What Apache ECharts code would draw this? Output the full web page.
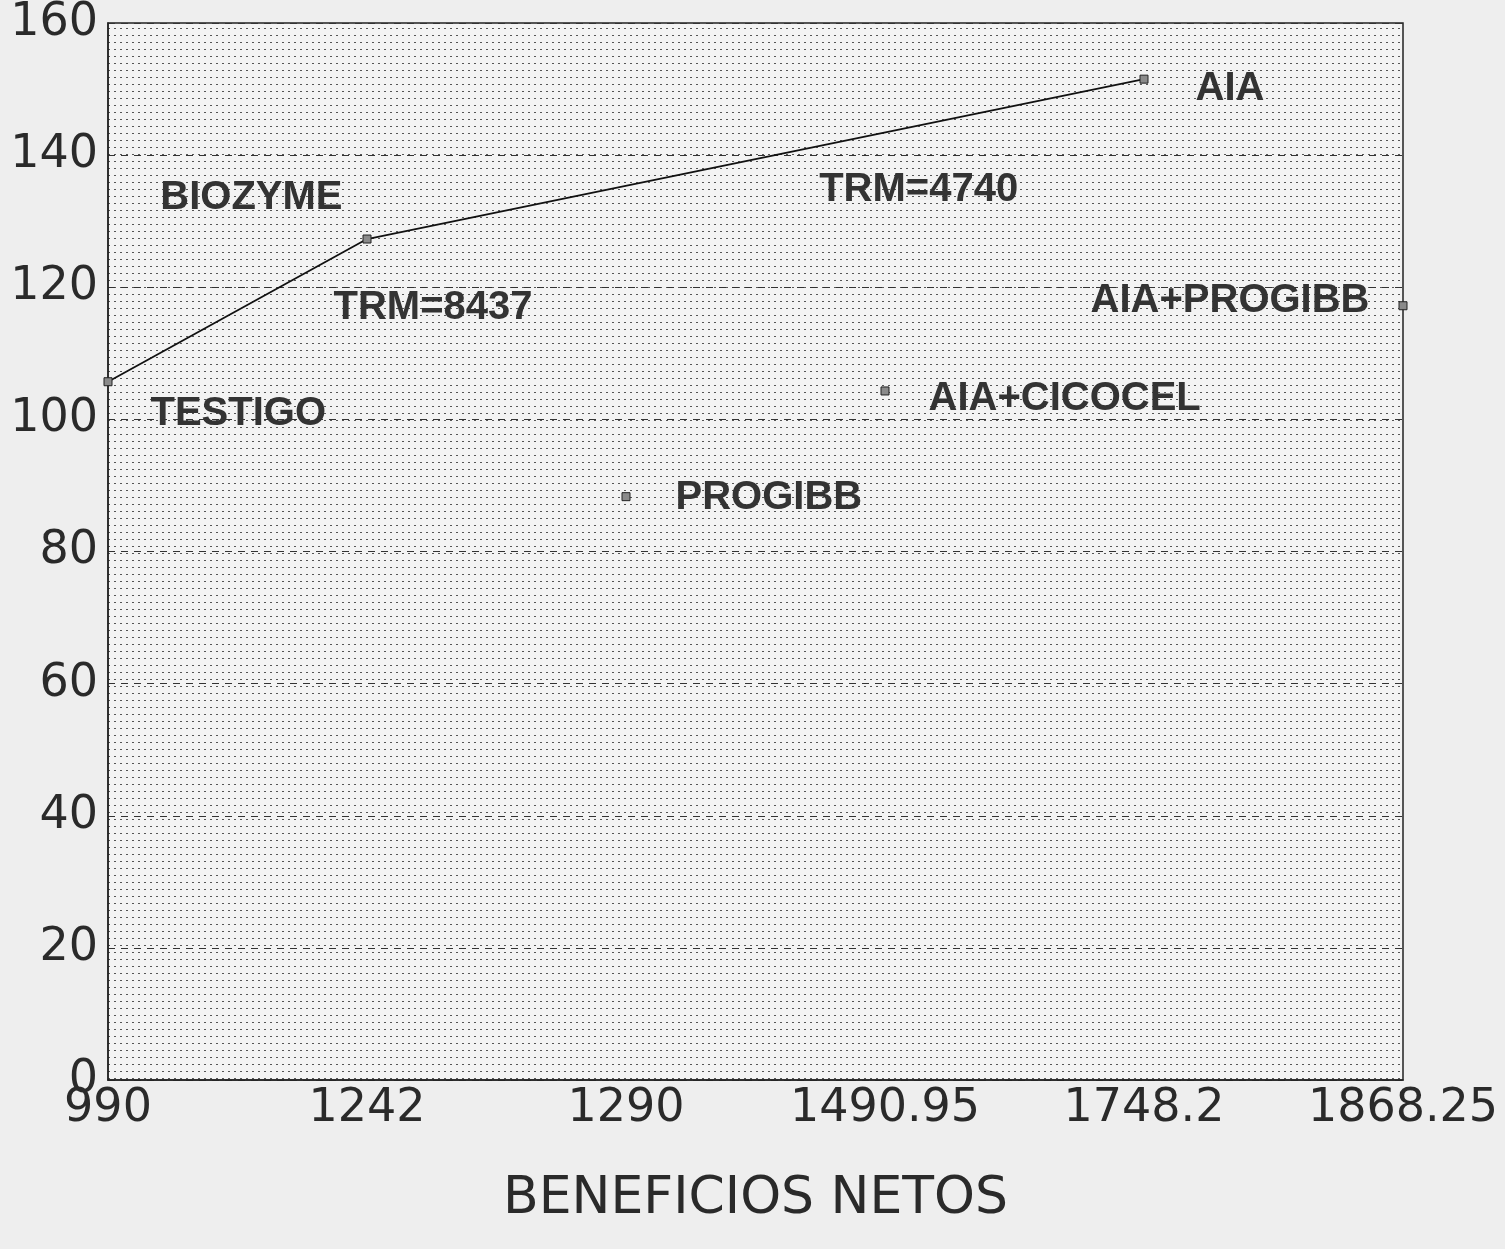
<!DOCTYPE html>
<html>
<head>
<meta charset="utf-8">
<script src="https://cdn.jsdelivr.net/npm/echarts@6/dist/echarts.min.js"></script>
<style>
  html, body { margin: 0; padding: 0; background: #eeeeee; }
  #chart { width: 1505px; height: 1249px; }
</style>
</head>
<body>
<div id="chart"></div>
<script>
// tick labels along the x axis (evenly spaced, one per treatment)
const xLabels = ['990', '1242', '1290', '1490.95', '1748.2', '1868.25'];
const treatments = ['TESTIGO', 'BIOZYME', 'PROGIBB', 'AIA+CICOCEL', 'AIA', 'AIA+PROGIBB'];
const yValues = [105.7, 127.3, 88.3, 104.3, 151.5, 117.2];
// treatments on the line (dominance frontier)
const frontier = ['TESTIGO', 'BIOZYME', 'AIA'];
// TRM notes: x position (tick index), y value, text
const noteX = [1.255, 3.13];
const noteY = [116.9, 134.7];
const noteText = ['TRM=8437', 'TRM=4740'];

// label placement for each treatment
const labelPos = {
  'TESTIGO': { position: 'right', distance: 38, offset: [0, 32] },
  'BIOZYME': { position: 'left', distance: 20, offset: [0, -41] },
  'PROGIBB': { position: 'right', distance: 45, offset: [0, 1] },
  'AIA+CICOCEL': { position: 'right', distance: 39, offset: [0, 8] },
  'AIA': { position: 'right', distance: 47, offset: [0, 10] },
  'AIA+PROGIBB': { position: 'left', distance: 29, offset: [0, -5] }
};

// dotted screen tone for the plot area
function dotPattern() {
  const c = document.createElement('canvas');
  c.width = 6; c.height = 7;
  const ctx = c.getContext('2d');
  ctx.fillStyle = '#f3f3f3';
  ctx.fillRect(0, 0, 6, 7);
  ctx.fillStyle = '#555555';
  ctx.fillRect(0, 0, 2, 1);
  return c;
}

const labelFont = { fontFamily: 'Liberation Sans', fontWeight: 'bold', fontSize: 40, color: '#333' };

const pointData = treatments.map((name, i) => ({
  name: name,
  value: [i, yValues[i]],
  label: Object.assign({ show: true, formatter: '{b}' }, labelFont, labelPos[name])
}));

const lineData = frontier.map(name => {
  const i = treatments.indexOf(name);
  return [i, yValues[i]];
});

const noteData = noteText.map((t, i) => ({
  name: t,
  value: [noteX[i], noteY[i]],
  label: Object.assign({ show: true, position: 'inside', formatter: '{b}' }, labelFont)
}));

const chart = echarts.init(document.getElementById('chart'));
chart.setOption({
  backgroundColor: '#eeeeee',
  animation: false,
  grid: {
    left: 108, right: 102, top: 22, bottom: 169,
    show: true,
    backgroundColor: { image: dotPattern(), repeat: 'repeat' },
    borderColor: '#222',
    borderWidth: 1.5
  },
  xAxis: {
    type: 'value',
    min: 0, max: 5, interval: 1,
    name: 'BENEFICIOS NETOS',
    nameLocation: 'middle',
    nameGap: 93,
    nameTextStyle: { fontFamily: 'DejaVu Sans', fontSize: 52, color: '#2a2a2a' },
    axisLine: { show: true, lineStyle: { color: '#222', width: 1.5 } },
    axisTick: { show: false },
    splitLine: { show: false },
    axisLabel: {
      formatter: v => xLabels[v],
      fontFamily: 'DejaVu Sans', fontSize: 46, color: '#2a2a2a', margin: 6
    }
  },
  yAxis: {
    type: 'value',
    min: 0, max: 160, interval: 20,
    axisLine: { show: true, lineStyle: { color: '#222', width: 1.5 } },
    axisTick: { show: false },
    splitLine: { show: true, lineStyle: { color: '#333', width: 1.2, type: [7, 6] } },
    axisLabel: { fontFamily: 'DejaVu Sans', fontSize: 46, color: '#2a2a2a', margin: 10 }
  },
  series: [
    {
      type: 'line',
      data: lineData,
      symbol: 'none',
      lineStyle: { color: '#111', width: 1.8 },
      z: 2
    },
    {
      type: 'scatter',
      data: pointData,
      symbol: 'rect',
      symbolSize: 8,
      itemStyle: { color: '#8a8a8a', borderColor: '#222', borderWidth: 1, opacity: 1 },
      z: 3
    },
    {
      type: 'scatter',
      data: noteData,
      symbolSize: 0,
      itemStyle: { opacity: 1 },
      z: 3
    }
  ]
});
</script>
</body>
</html>
